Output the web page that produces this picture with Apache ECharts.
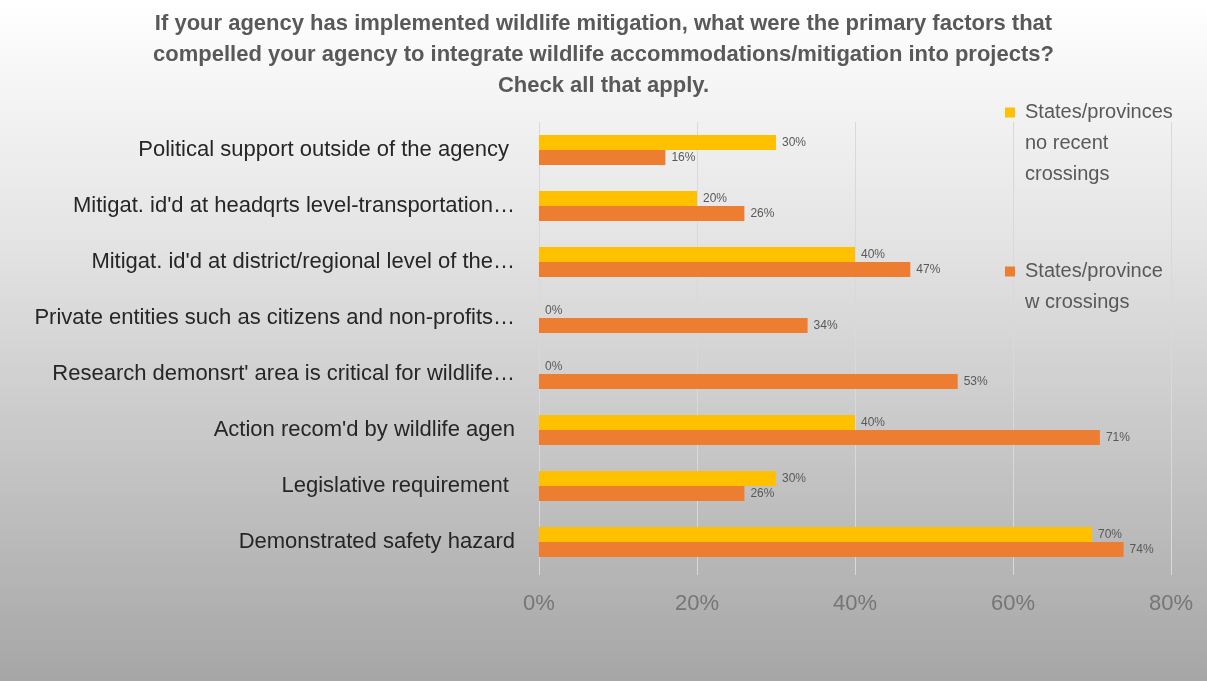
<!DOCTYPE html>
<html>
<head>
<meta charset="utf-8">
<script src="https://cdn.jsdelivr.net/npm/echarts@6/dist/echarts.min.js"></script>
<style>
  html, body { margin: 0; padding: 0; }
  #chart { width: 1207px; height: 681px; }
</style>
</head>
<body>
<div id="chart"></div>
<script>
// Factors listed top to bottom
const categories = [
  'Political support outside of the agency ',
  'Mitigat. id\'d at headqrts level-transportation…',
  'Mitigat. id\'d at district/regional level of the…',
  'Private entities such as citizens and non-profits…',
  'Research demonsrt\' area is critical for wildlife…',
  'Action recom\'d by wildlife agen',
  'Legislative requirement ',
  'Demonstrated safety hazard'
];
// Percent of respondents
const noRecentCrossings = [30, 20, 40, 0, 0, 40, 30, 70];
const withCrossings = [16, 26, 47, 34, 53, 71, 26, 74];
const xTicks = [0, 20, 40, 60, 80];

const nameA = 'States/provinces no recent crossings';
const nameB = 'States/province w crossings';
// Leading blank lines keep the swatch beside the first line of each wrapped entry
const legendText = {};
legendText[nameA] = '\n\nStates/provinces\nno recent\ncrossings';
legendText[nameB] = '\nStates/province\nw crossings';

const font = '"Liberation Sans", Arial, sans-serif';
const chart = echarts.init(document.getElementById('chart'));

const legendBase = {
  orient: 'vertical',
  left: 1000,
  itemWidth: 10,
  itemHeight: 10,
  icon: 'rect',
  formatter: n => legendText[n],
  textStyle: { fontFamily: font, fontSize: 20, lineHeight: 31, color: '#595959', padding: [0, 0, 0, 5] }
};

chart.setOption({
  backgroundColor: {
    type: 'linear', x: 0, y: 0, x2: 0, y2: 1,
    colorStops: [
      { offset: 0, color: '#ffffff' },
      { offset: 0.35, color: '#e4e4e4' },
      { offset: 1, color: '#a6a6a6' }
    ]
  },
  title: {
    text: 'If your agency has implemented wildlife mitigation, what were the primary factors that\ncompelled your agency to integrate wildlife accommodations/mitigation into projects?\nCheck all that apply.',
    left: 'center',
    top: 3,
    textStyle: {
      fontFamily: font, fontSize: 22, fontWeight: 'bold', lineHeight: 31, color: '#595959', align: 'center'
    }
  },
  legend: [
    Object.assign({}, legendBase, { top: 30, data: [nameA] }),
    Object.assign({}, legendBase, { top: 220, data: [nameB] })
  ],
  grid: { left: 539, right: 36, top: 122, bottom: 111 },
  xAxis: {
    type: 'value',
    min: 0, max: 80, interval: 20,
    axisLine: { show: false },
    axisTick: { show: true, length: 5, lineStyle: { color: '#d9d9d9' } },
    splitLine: { lineStyle: { color: '#d9d9d9', width: 1 } },
    axisLabel: {
      formatter: v => xTicks.includes(v) ? v + '%' : '',
      fontFamily: font, fontSize: 22, color: '#767676', margin: 23
    }
  },
  yAxis: {
    type: 'category',
    inverse: true,
    data: categories,
    axisLine: { show: false },
    axisTick: { show: false },
    axisLabel: { fontFamily: font, fontSize: 22, color: '#262626', margin: 24 }
  },
  series: [
    {
      name: nameA, type: 'bar', data: noRecentCrossings,
      itemStyle: { color: '#ffc000' },
      barWidth: 15, barGap: '0%',
      label: { show: true, position: 'right', distance: 6, formatter: p => p.value + '%', fontFamily: font, fontSize: 12, color: '#595959' }
    },
    {
      name: nameB, type: 'bar', data: withCrossings,
      itemStyle: { color: '#ed7d31' },
      barWidth: 15, barGap: '0%',
      label: { show: true, position: 'right', distance: 6, formatter: p => p.value + '%', fontFamily: font, fontSize: 12, color: '#595959' }
    }
  ]
});
</script>
</body>
</html>
